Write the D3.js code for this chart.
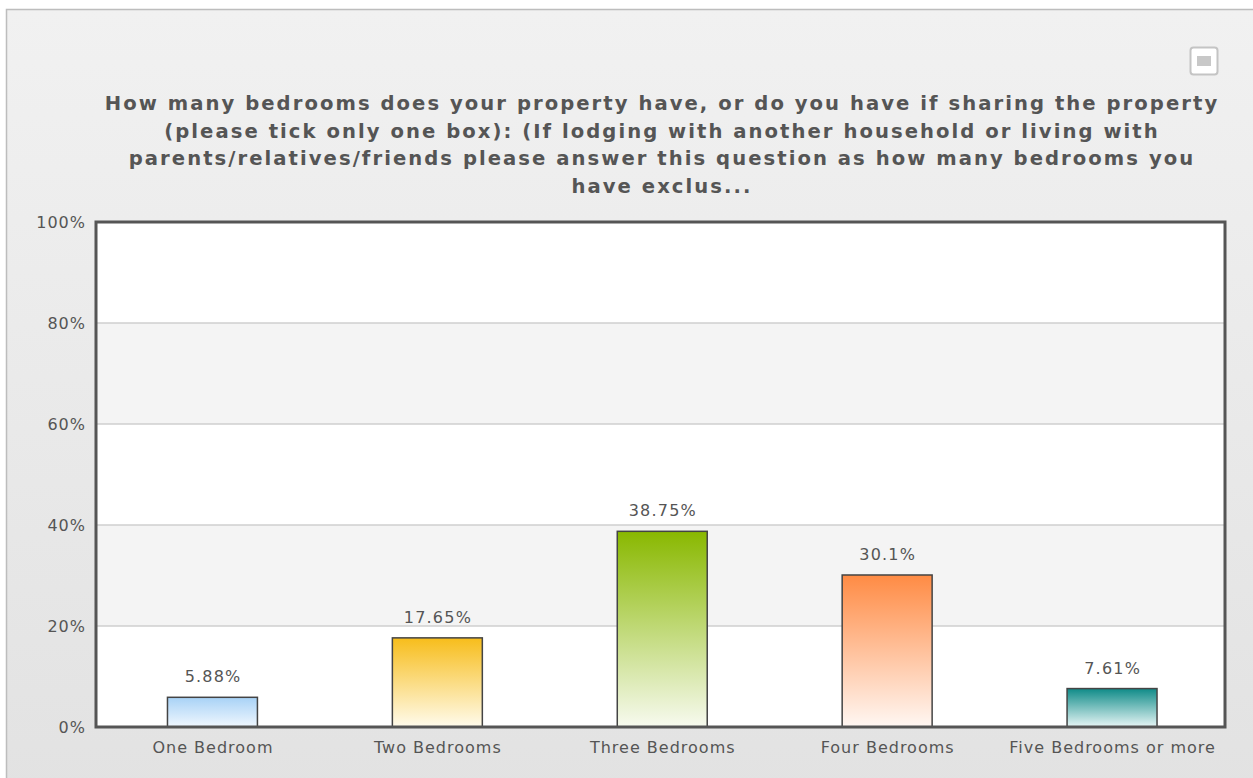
<!DOCTYPE html>
<html>
<head>
<meta charset="utf-8">
<title>Bedrooms</title>
<script src="https://d3js.org/d3.v7.min.js"></script>
<style>
  body { margin: 0; background: #fff; }
  text { font-family: "DejaVu Sans", Verdana, sans-serif; }
</style>
</head>
<body>
<script>
// chart data
var categories = ["One Bedroom", "Two Bedrooms", "Three Bedrooms", "Four Bedrooms", "Five Bedrooms or more"];
var values = [5.88, 17.65, 38.75, 30.1, 7.61];
var valueLabels = ["5.88%", "17.65%", "38.75%", "30.1%", "7.61%"];
var yTicks = [0, 20, 40, 60, 80, 100];
var topColors = ["#a8d2f6", "#f7bd1b", "#89b800", "#ff8b44", "#0f8b88"];
var bottomColors = ["#f0f7fe", "#fffbec", "#f7faef", "#fff7f3", "#e8f6f6"];
var titleLines = [
  "How many bedrooms does your property have, or do you have if sharing the property",
  "(please tick only one box): (If lodging with another household or living with",
  "parents/relatives/friends please answer this question as how many bedrooms you",
  "have exclus..."
];

var W = 1253, H = 778;
var svg = d3.select("body").append("svg").attr("width", W).attr("height", H);
var defs = svg.append("defs");

var bg = defs.append("linearGradient").attr("id", "bg")
  .attr("x1", 0).attr("y1", 0).attr("x2", 0).attr("y2", 1);
bg.append("stop").attr("offset", 0).attr("stop-color", "#f1f1f1");
bg.append("stop").attr("offset", 1).attr("stop-color", "#e2e2e2");

// card
svg.append("rect").attr("x", 6.5).attr("y", 9.5).attr("width", W + 10).attr("height", H + 10)
  .attr("fill", "url(#bg)").attr("stroke", "#bdbdbd").attr("stroke-width", 1.5);

// small icon top right
svg.append("rect").attr("x", 1190.5).attr("y", 47.5).attr("width", 27).attr("height", 27)
  .attr("rx", 3).attr("fill", "#fff").attr("stroke", "#c4c4c4").attr("stroke-width", 2);
svg.append("rect").attr("x", 1197).attr("y", 56).attr("width", 14).attr("height", 10)
  .attr("fill", "#c8c8c8");

// title
svg.append("g").selectAll("text").data(titleLines).enter().append("text")
  .attr("x", 662).attr("y", function(d, i) { return 110 + i * 27.7; })
  .attr("text-anchor", "middle").attr("font-size", 19.6).attr("font-weight", "bold")
  .attr("letter-spacing", 2.05)
  .attr("fill", "#555").text(function(d) { return d; });

var m = { left: 96, right: 1225, top: 222, bottom: 727 };
var x = d3.scaleBand().domain(categories).range([100, 1224.5]).paddingInner(0.6).paddingOuter(0.3);
var y = d3.scaleLinear().domain([0, 100]).range([m.bottom, m.top]);

// plot bands
var g = svg.append("g");
g.selectAll("rect.band").data(d3.range(yTicks.length - 1)).enter().append("rect")
  .attr("x", m.left).attr("width", m.right - m.left)
  .attr("y", function(i) { return y(yTicks[i + 1]); })
  .attr("height", function(i) { return y(yTicks[i]) - y(yTicks[i + 1]); })
  .attr("fill", function(i) { return i % 2 ? "#f4f4f4" : "#fff"; });

// grid lines
g.selectAll("line.grid").data(yTicks.slice(1, -1)).enter().append("line")
  .attr("x1", m.left).attr("x2", m.right)
  .attr("y1", function(d) { return y(d); }).attr("y2", function(d) { return y(d); })
  .attr("stroke", "#cfcfcf").attr("stroke-width", 1.5);

// y axis labels
var yAxis = svg.append("g").attr("transform", "translate(" + (m.left - 7) + ",0)")
  .call(d3.axisLeft(y).tickValues(yTicks).tickSize(0).tickFormat(function(d) { return d + "%"; }));
yAxis.select(".domain").remove();
yAxis.selectAll("text").attr("font-size", 16).attr("fill", "#555").attr("letter-spacing", 1)
  .attr("font-family", "DejaVu Sans, Verdana, sans-serif").attr("dx", 0);

// x axis labels
var xAxis = svg.append("g").attr("transform", "translate(" + 0.5 + "," + (m.bottom + 12) + ")")
  .call(d3.axisBottom(x).tickSize(0));
xAxis.select(".domain").remove();
xAxis.selectAll("text").attr("font-size", 16).attr("fill", "#555").attr("letter-spacing", 1)
  .attr("font-family", "DejaVu Sans, Verdana, sans-serif");

// gradients for bars
categories.forEach(function(c, i) {
  var lg = defs.append("linearGradient").attr("id", "bar" + i)
    .attr("x1", 0).attr("y1", 0).attr("x2", 0).attr("y2", 1);
  lg.append("stop").attr("offset", 0).attr("stop-color", topColors[i]);
  lg.append("stop").attr("offset", 1).attr("stop-color", bottomColors[i]);
});

// bars
svg.append("g").selectAll("rect").data(values).enter().append("rect")
  .attr("x", function(d, i) { return x(categories[i]); })
  .attr("y", function(d) { return y(d); })
  .attr("width", x.bandwidth())
  .attr("height", function(d) { return y(0) - y(d); })
  .attr("fill", function(d, i) { return "url(#bar" + i + ")"; })
  .attr("stroke", "#444").attr("stroke-width", 1.5);

// value labels
svg.append("g").selectAll("text").data(values).enter().append("text")
  .attr("x", function(d, i) { return x(categories[i]) + x.bandwidth() / 2 + 0.6; })
  .attr("y", function(d) { return y(d) - 15; })
  .attr("text-anchor", "middle").attr("font-size", 16).attr("fill", "#555")
  .attr("letter-spacing", 1.2)
  .text(function(d, i) { return valueLabels[i]; });

// plot frame
svg.append("rect").attr("x", m.left).attr("y", m.top)
  .attr("width", m.right - m.left).attr("height", m.bottom - m.top)
  .attr("fill", "none").attr("stroke", "#555").attr("stroke-width", 3);
</script>
</body>
</html>
